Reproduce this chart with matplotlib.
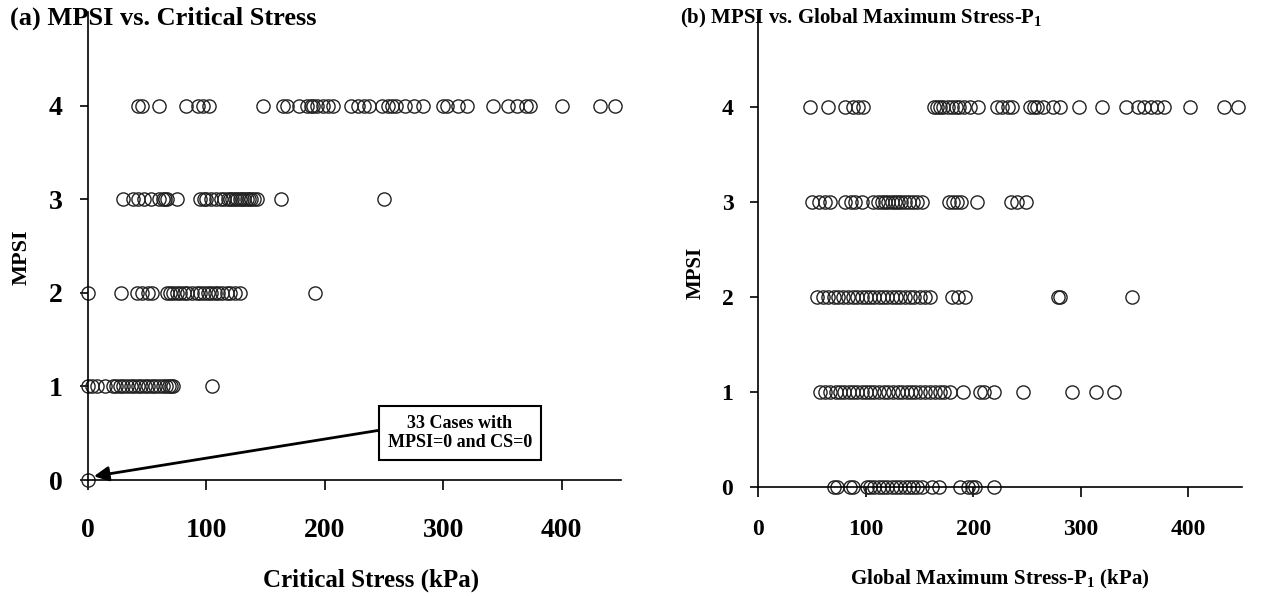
import matplotlib
matplotlib.use("Agg")
import matplotlib.pyplot as plt

# MPSI levels
levels = [0, 1, 2, 3, 4]

# (a) Critical stress (kPa) per MPSI level
cs_mpsi0 = [0]
cs_mpsi1 = [0, 3, 8, 14, 21, 24, 27, 30, 33, 36, 39, 42, 45, 48, 51, 54, 57,
            60, 63, 66, 68, 70, 72, 105]
cs_mpsi2 = [0, 28, 41, 46, 51, 54, 67, 69, 72, 75, 78, 81, 84, 88, 92, 95, 98,
            101, 104, 107, 110, 113, 117, 120, 124, 128, 192]
cs_mpsi3 = [30, 38, 42, 47, 53, 60, 63, 65, 67, 75, 95, 98, 100, 104, 108, 112,
            115, 118, 120, 122, 124, 126, 128, 130, 132, 134, 136, 138, 140, 143,
            163, 250]
cs_mpsi4 = [42, 46, 60, 83, 93, 97, 102, 148, 165, 168, 178, 185, 188, 190, 193,
            198, 203, 207, 222, 228, 233, 237, 248, 253, 257, 260, 268, 275, 283,
            300, 303, 312, 320, 342, 355, 362, 370, 373, 400, 432, 445]

# (b) Global maximum stress P1 (kPa) per MPSI level
p1_mpsi0 = [70, 73, 85, 88, 101, 104, 108, 112, 116, 120, 124, 128, 132, 136,
            140, 144, 148, 152, 162, 168, 188, 195, 199, 202, 219]
p1_mpsi1 = [57, 62, 67, 72, 76, 80, 84, 88, 92, 96, 100, 104, 108, 112, 117, 121,
            125, 130, 134, 138, 142, 146, 150, 155, 160, 164, 169, 173, 178, 190,
            206, 210, 219, 246, 292, 314, 331]
p1_mpsi2 = [55, 60, 65, 70, 74, 79, 83, 88, 92, 96, 100, 104, 108, 112, 116, 120,
            124, 128, 132, 136, 141, 145, 150, 155, 160, 180, 186, 192, 279, 281,
            348]
p1_mpsi3 = [50, 56, 62, 67, 81, 86, 90, 96, 107, 111, 115, 118, 121, 124, 127,
            130, 133, 136, 140, 144, 148, 152, 177, 181, 185, 189, 203, 235, 241,
            249]
p1_mpsi4 = [48, 65, 81, 88, 93, 97, 163, 166, 169, 172, 176, 180, 184, 187, 191,
            197, 204, 222, 227, 232, 236, 253, 256, 259, 265, 274, 281, 298, 320,
            342, 353, 359, 365, 371, 377, 402, 433, 446]

x_ticks = [0, 100, 200, 300, 400]

plt.rcParams["font.family"] = ["Liberation Serif", "DejaVu Serif"]
plt.rcParams["font.weight"] = "bold"
plt.rcParams["mathtext.fontset"] = "custom"
plt.rcParams["mathtext.rm"] = "Liberation Serif:bold"
plt.rcParams["mathtext.bf"] = "Liberation Serif:bold"

fig = plt.figure(figsize=(12.86, 5.96), dpi=100)
ax1 = fig.add_axes([0.0684, 0.1946, 0.4145, 0.7854])
ax2 = fig.add_axes([0.5897, 0.1829, 0.3761, 0.797])

def draw_rows(ax, rows):
    for lvl, xs in zip(levels, rows):
        ax.plot(xs, [lvl] * len(xs), linestyle="none", marker="o",
                markersize=9.5, markerfacecolor="none",
                markeredgecolor="#222222", markeredgewidth=1.0, clip_on=False)

draw_rows(ax1, [cs_mpsi0, cs_mpsi1, cs_mpsi2, cs_mpsi3, cs_mpsi4])
draw_rows(ax2, [p1_mpsi0, p1_mpsi1, p1_mpsi2, p1_mpsi3, p1_mpsi4])

for ax in (ax1, ax2):
    ax.set_xlim(0, 450)
    ax.set_ylim(0, 5)
    ax.set_xticks(x_ticks)
    ax.set_yticks(levels)
    ax.spines["top"].set_visible(False)
    ax.spines["right"].set_visible(False)
    ax.spines["left"].set_linewidth(1.2)
    ax.spines["bottom"].set_linewidth(1.2)

# left panel is drawn with larger lettering than the right one
ax1.tick_params(axis="x", direction="out", length=7, width=1.2, pad=20,
                labelsize=20)
ax1.tick_params(axis="y", direction="out", length=6, width=1.2, pad=12,
                labelsize=20)
ax2.tick_params(axis="x", direction="out", length=7, width=1.2, pad=16,
                labelsize=17)
ax2.tick_params(axis="y", direction="out", length=6, width=1.2, pad=12,
                labelsize=17)

ax1.set_xlabel("Critical Stress (kPa)", fontsize=18, fontweight="bold")
ax1.xaxis.set_label_coords(0.531, -0.2136)
ax1.xaxis.label.set_va("center")
ax2.set_xlabel(r"Global Maximum Stress-P$_\mathrm{1}$ (kPa)", fontsize=15,
               fontweight="bold")
ax2.xaxis.set_label_coords(0.50, -0.195)
ax2.xaxis.label.set_va("center")

ax1.set_ylabel("MPSI", fontsize=16, fontweight="bold")
ax1.yaxis.set_label_coords(-0.124, 0.475)
ax1.yaxis.label.set_va("center")
ax2.set_ylabel("MPSI", fontsize=15, fontweight="bold")
ax2.yaxis.set_label_coords(-0.13, 0.45)
ax2.yaxis.label.set_va("center")

# Panel titles
fig.text(10 / 1286, 1 - 18 / 596, "(a) MPSI vs. Critical Stress",
         fontsize=19, fontweight="bold", va="center", ha="left")
fig.text(680 / 1286, 1 - 18 / 596,
         r"(b) MPSI vs. Global Maximum Stress-P$_\mathrm{1}$",
         fontsize=15, fontweight="bold", va="center", ha="left")

# Annotation for zero cases
ax1.annotate("33 Cases with\nMPSI=0 and CS=0", xy=(5, 0.04), xytext=(314, 0.5),
             fontsize=13, fontweight="bold", ha="center", va="center",
             linespacing=1.15,
             bbox=dict(boxstyle="square,pad=0.5", fc="white", ec="black", lw=1.5),
             arrowprops=dict(arrowstyle="-|>", color="black", lw=2,
                             mutation_scale=22, shrinkA=0, shrinkB=0,
                             relpos=(0, 0.62)),
             annotation_clip=False)

fig.savefig("out.png", dpi=100)
